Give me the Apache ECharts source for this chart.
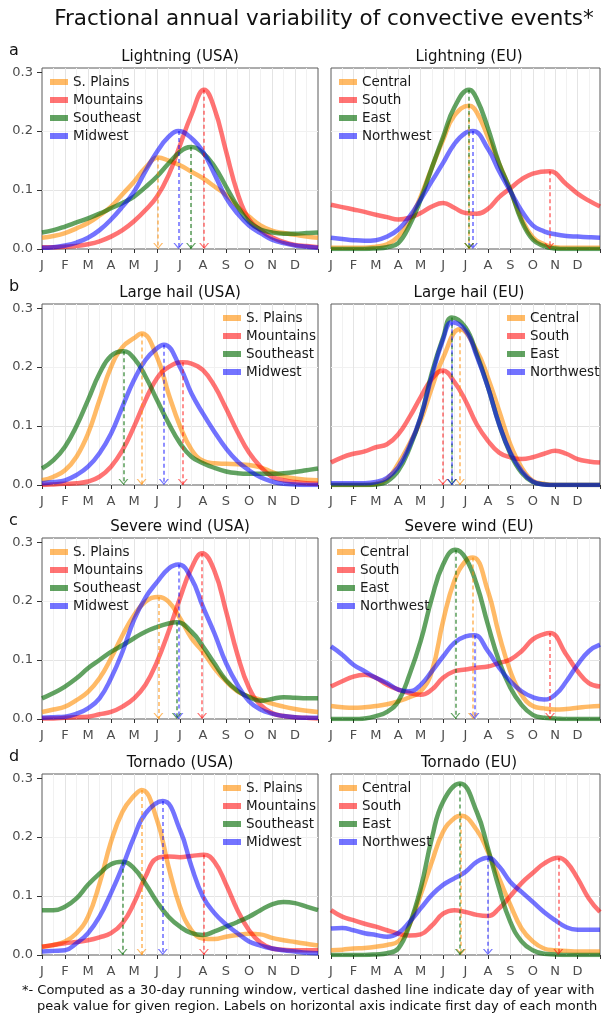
<!DOCTYPE html>
<html>
<head>
<meta charset="utf-8">
<script src="https://cdn.jsdelivr.net/npm/echarts@6/dist/echarts.min.js"></script>
<style>
  html, body { margin: 0; padding: 0; background: #fff; }
  #chart-container { width: 603px; height: 1018px; }
</style>
</head>
<body>
<div id="chart-container"></div>
<script>
// x positions in months (0 = 1 Jan, 12 = 31 Dec), half-month steps
var monthPos = [0, 0.5, 1, 1.5, 2, 2.5, 3, 3.5, 4, 4.5, 5, 5.5, 6, 6.5, 7, 7.5, 8, 8.5, 9, 9.5, 10, 10.5, 11, 11.5, 12];
var monthLabels = ['J', 'F', 'M', 'A', 'M', 'J', 'J', 'A', 'S', 'O', 'N', 'D'];
var yTicks = [0, 0.1, 0.2, 0.3];

var usaRegions = ['S. Plains', 'Mountains', 'Southeast', 'Midwest'];
var euRegions = ['Central', 'South', 'East', 'Northwest'];

// a - lightning
var lightningUsaPlains = [0.019,0.022,0.027,0.035,0.044,0.057,0.072,0.093,0.114,0.138,0.154,0.150,0.142,0.131,0.120,0.106,0.092,0.072,0.055,0.040,0.031,0.027,0.024,0.021,0.019];
var lightningUsaMountains = [0.003,0.003,0.004,0.005,0.008,0.013,0.021,0.032,0.047,0.066,0.089,0.125,0.176,0.228,0.268,0.238,0.166,0.095,0.050,0.032,0.020,0.012,0.007,0.005,0.003];
var lightningUsaSoutheast = [0.028,0.032,0.038,0.045,0.052,0.060,0.069,0.078,0.089,0.105,0.123,0.145,0.165,0.173,0.163,0.140,0.106,0.072,0.046,0.033,0.028,0.026,0.026,0.027,0.028];
var lightningUsaMidwest = [0.002,0.003,0.006,0.011,0.019,0.032,0.050,0.072,0.097,0.132,0.165,0.190,0.199,0.188,0.165,0.127,0.087,0.060,0.040,0.027,0.016,0.010,0.006,0.004,0.002];
var lightningUsaPeakMonth = [5.05, 7.05, 6.48, 5.93];
var lightningUsaPeakValue = [0.155, 0.270, 0.173, 0.200];

var lightningEuCentral = [0.002,0.002,0.002,0.002,0.004,0.008,0.021,0.048,0.089,0.138,0.185,0.226,0.242,0.232,0.190,0.145,0.100,0.052,0.020,0.008,0.003,0.002,0.002,0.002,0.002];
var lightningEuSouth = [0.075,0.071,0.067,0.063,0.058,0.054,0.050,0.053,0.061,0.072,0.078,0.070,0.061,0.060,0.068,0.088,0.103,0.118,0.128,0.130,0.126,0.110,0.094,0.082,0.072];
var lightningEuEast = [0,0,0,0,0.001,0.003,0.010,0.040,0.084,0.138,0.190,0.240,0.268,0.255,0.205,0.145,0.100,0.048,0.016,0.005,0.001,0,0,0,0];
var lightningEuNorthwest = [0.019,0.017,0.015,0.014,0.015,0.021,0.033,0.055,0.084,0.115,0.146,0.178,0.197,0.197,0.170,0.132,0.098,0.065,0.040,0.030,0.025,0.022,0.021,0.020,0.019];
var lightningEuPeakMonth = [6.16, 9.74, 6.16, 6.33];
var lightningEuPeakValue = [0.243, 0.132, 0.270, 0.200];

// b - large hail
var hailUsaPlains = [0.008,0.014,0.025,0.048,0.087,0.144,0.200,0.234,0.249,0.254,0.217,0.155,0.100,0.060,0.041,0.037,0.036,0.035,0.034,0.030,0.022,0.015,0.011,0.009,0.008];
var hailUsaMountains = [0,0.001,0.002,0.003,0.006,0.014,0.031,0.059,0.099,0.144,0.181,0.200,0.207,0.206,0.195,0.168,0.130,0.090,0.055,0.031,0.014,0.008,0.005,0.003,0.002];
var hailUsaSoutheast = [0.028,0.042,0.065,0.100,0.144,0.189,0.219,0.227,0.215,0.184,0.144,0.105,0.071,0.048,0.037,0.029,0.023,0.020,0.019,0.019,0.019,0.020,0.022,0.025,0.028];
var hailUsaMidwest = [0.003,0.005,0.008,0.017,0.031,0.054,0.087,0.133,0.178,0.212,0.232,0.234,0.200,0.155,0.121,0.090,0.062,0.040,0.025,0.013,0.006,0.002,0.001,0,0];
var hailUsaPeakMonth = [4.33, 6.12, 3.54, 5.3];
var hailUsaPeakValue = [0.257, 0.208, 0.227, 0.238];

var hailEuCentral = [0,0,0,0,0.002,0.010,0.036,0.070,0.109,0.165,0.216,0.255,0.259,0.228,0.182,0.126,0.069,0.030,0.007,0.002,0,0,0,0,0];
var hailEuSouth = [0.038,0.047,0.053,0.057,0.064,0.069,0.086,0.115,0.149,0.180,0.194,0.175,0.143,0.103,0.075,0.055,0.047,0.044,0.047,0.053,0.058,0.053,0.044,0.040,0.038];
var hailEuEast = [0,0,0,0,0.001,0.006,0.024,0.062,0.115,0.190,0.250,0.281,0.267,0.222,0.166,0.103,0.053,0.021,0.005,0.001,0,0,0,0,0];
var hailEuNorthwest = [0.003,0.003,0.003,0.003,0.005,0.012,0.030,0.066,0.115,0.185,0.247,0.273,0.262,0.219,0.166,0.103,0.055,0.024,0.006,0.001,0,0,0,0,0];
var hailEuPeakMonth = [5.75, 4.99, 5.39, 5.39];
var hailEuPeakValue = [0.264, 0.194, 0.284, 0.276];

// c - severe wind
var windUsaPlains = [0.012,0.016,0.021,0.032,0.046,0.069,0.103,0.142,0.176,0.199,0.207,0.199,0.171,0.137,0.114,0.086,0.064,0.047,0.038,0.033,0.026,0.021,0.017,0.014,0.012];
var windUsaMountains = [0.001,0.001,0.002,0.003,0.004,0.008,0.012,0.021,0.035,0.058,0.097,0.148,0.205,0.256,0.278,0.251,0.183,0.109,0.053,0.024,0.010,0.005,0.003,0.002,0.001];
var windUsaSoutheast = [0.035,0.044,0.055,0.069,0.086,0.100,0.114,0.125,0.137,0.148,0.156,0.162,0.163,0.148,0.123,0.094,0.066,0.048,0.037,0.031,0.034,0.037,0.036,0.035,0.035];
var windUsaMidwest = [0.002,0.003,0.004,0.009,0.018,0.035,0.069,0.114,0.168,0.206,0.232,0.255,0.262,0.238,0.190,0.145,0.095,0.058,0.030,0.016,0.009,0.005,0.003,0.002,0.002];
var windUsaPeakMonth = [5.06, 6.96, 5.86, 5.93];
var windUsaPeakValue = [0.207, 0.281, 0.164, 0.262];

var windEuCentral = [0.022,0.020,0.019,0.020,0.022,0.025,0.030,0.037,0.047,0.081,0.166,0.234,0.268,0.262,0.217,0.143,0.081,0.041,0.022,0.018,0.016,0.017,0.019,0.021,0.022];
var windEuSouth = [0.055,0.064,0.072,0.075,0.070,0.058,0.050,0.044,0.041,0.050,0.070,0.081,0.084,0.087,0.089,0.095,0.101,0.115,0.135,0.144,0.138,0.109,0.081,0.061,0.055];
var windEuEast = [0,0,0,0.001,0.005,0.012,0.030,0.075,0.132,0.205,0.262,0.286,0.273,0.228,0.160,0.098,0.053,0.024,0.007,0.002,0.001,0,0,0,0];
var windEuNorthwest = [0.123,0.109,0.092,0.081,0.070,0.061,0.050,0.047,0.058,0.081,0.106,0.129,0.140,0.140,0.115,0.087,0.064,0.047,0.037,0.033,0.041,0.064,0.092,0.115,0.126];
var windEuPeakMonth = [6.33, 9.77, 5.55, 6.4];
var windEuPeakValue = [0.274, 0.146, 0.287, 0.142];

// d - tornado
var tornadoUsaPlains = [0.014,0.017,0.023,0.037,0.065,0.121,0.192,0.243,0.270,0.277,0.229,0.150,0.082,0.042,0.028,0.027,0.031,0.034,0.036,0.035,0.029,0.025,0.022,0.019,0.016];
var tornadoUsaMountains = [0.014,0.017,0.020,0.022,0.025,0.030,0.037,0.054,0.088,0.133,0.164,0.167,0.166,0.168,0.169,0.158,0.120,0.076,0.042,0.021,0.011,0.009,0.008,0.008,0.008];
var tornadoUsaSoutheast = [0.076,0.076,0.082,0.096,0.119,0.138,0.154,0.158,0.147,0.121,0.090,0.065,0.048,0.037,0.034,0.040,0.048,0.056,0.065,0.076,0.086,0.090,0.088,0.082,0.076];
var tornadoUsaMidwest = [0.006,0.007,0.008,0.020,0.037,0.065,0.105,0.150,0.200,0.240,0.255,0.254,0.212,0.150,0.099,0.071,0.052,0.037,0.023,0.016,0.011,0.008,0.006,0.004,0.003];
var tornadoUsaPeakMonth = [4.33, 7.04, 3.5, 5.25];
var tornadoUsaPeakValue = [0.280, 0.170, 0.158, 0.261];

var tornadoEuCentral = [0.008,0.009,0.011,0.012,0.014,0.017,0.023,0.051,0.102,0.158,0.209,0.232,0.232,0.212,0.175,0.130,0.085,0.045,0.023,0.011,0.008,0.007,0.006,0.006,0.006];
var tornadoEuSouth = [0.076,0.065,0.059,0.053,0.048,0.042,0.036,0.033,0.035,0.050,0.070,0.076,0.073,0.068,0.066,0.079,0.100,0.122,0.139,0.155,0.164,0.158,0.130,0.096,0.073];
var tornadoEuEast = [0,0,0,0,0.001,0.003,0.011,0.051,0.113,0.198,0.260,0.288,0.282,0.243,0.181,0.113,0.056,0.023,0.008,0.002,0.001,0,0,0,0];
var tornadoEuNorthwest = [0.045,0.046,0.042,0.037,0.034,0.031,0.037,0.056,0.079,0.102,0.119,0.130,0.141,0.158,0.165,0.150,0.124,0.107,0.090,0.073,0.059,0.047,0.043,0.043,0.043];
var tornadoEuPeakMonth = [5.8, 10.14, 5.75, 7.0];
var tornadoEuPeakValue = [0.236, 0.165, 0.291, 0.165];

var lineColors = ['rgba(255,140,0,0.6)', 'rgba(255,0,0,0.55)', 'rgba(0,105,0,0.62)', 'rgba(0,0,255,0.55)'];
var font = 'DejaVu Sans';

var rowTop = [68, 304, 538, 774];
var colLeft = [42, 331];
var plotW = 276, plotH = 181;
var yMax = 0.307;

var panels = [
  { title: 'Lightning (USA)', letter: 'a', row: 0, col: 0, regions: usaRegions, legendLeft: 50,
    values: [lightningUsaPlains, lightningUsaMountains, lightningUsaSoutheast, lightningUsaMidwest],
    peakMonth: lightningUsaPeakMonth, peakValue: lightningUsaPeakValue },
  { title: 'Lightning (EU)', row: 0, col: 1, regions: euRegions, legendLeft: 339,
    values: [lightningEuCentral, lightningEuSouth, lightningEuEast, lightningEuNorthwest],
    peakMonth: lightningEuPeakMonth, peakValue: lightningEuPeakValue },
  { title: 'Large hail (USA)', letter: 'b', row: 1, col: 0, regions: usaRegions, legendLeft: 223,
    values: [hailUsaPlains, hailUsaMountains, hailUsaSoutheast, hailUsaMidwest],
    peakMonth: hailUsaPeakMonth, peakValue: hailUsaPeakValue },
  { title: 'Large hail (EU)', row: 1, col: 1, regions: euRegions, legendLeft: 507,
    values: [hailEuCentral, hailEuSouth, hailEuEast, hailEuNorthwest],
    peakMonth: hailEuPeakMonth, peakValue: hailEuPeakValue },
  { title: 'Severe wind (USA)', letter: 'c', row: 2, col: 0, regions: usaRegions, legendLeft: 50,
    values: [windUsaPlains, windUsaMountains, windUsaSoutheast, windUsaMidwest],
    peakMonth: windUsaPeakMonth, peakValue: windUsaPeakValue },
  { title: 'Severe wind (EU)', row: 2, col: 1, regions: euRegions, legendLeft: 337,
    values: [windEuCentral, windEuSouth, windEuEast, windEuNorthwest],
    peakMonth: windEuPeakMonth, peakValue: windEuPeakValue },
  { title: 'Tornado (USA)', letter: 'd', row: 3, col: 0, regions: usaRegions, legendLeft: 223,
    values: [tornadoUsaPlains, tornadoUsaMountains, tornadoUsaSoutheast, tornadoUsaMidwest],
    peakMonth: tornadoUsaPeakMonth, peakValue: tornadoUsaPeakValue },
  { title: 'Tornado (EU)', row: 3, col: 1, regions: euRegions, legendLeft: 339,
    values: [tornadoEuCentral, tornadoEuSouth, tornadoEuEast, tornadoEuNorthwest],
    peakMonth: tornadoEuPeakMonth, peakValue: tornadoEuPeakValue }
];

// open "V" arrow head, tip at the bottom
var chevron = 'path://M0,0 L5,6 L10,0 L8.5,0 L5,4.2 L1.5,0 Z';

var dom = document.getElementById('chart-container');
var myChart = echarts.init(dom, null, { renderer: 'canvas' });

// grid points too close to the peak are dropped so the curve stays round there
function lineData(values, pkMonth, pkValue) {
  var pts = [];
  for (var i = 0; i < monthPos.length; i++) {
    if (Math.abs(monthPos[i] - pkMonth) < 0.26) continue;
    pts.push([monthPos[i], values[i]]);
  }
  pts.push([pkMonth, pkValue]);
  pts.sort(function(a, b) { return a[0] - b[0]; });
  return pts;
}

function getOption() {
  var grids = [], xAxes = [], yAxes = [], series = [], legends = [];
  var titles = [{
    text: 'Fractional annual variability of convective events*',
    left: 324, top: 19, textAlign: 'center', textVerticalAlign: 'middle', padding: 0,
    textStyle: { fontFamily: font, fontSize: 21.5, fontWeight: 'normal', color: '#111' }
  }];

  panels.forEach(function(p, pi) {
    var left = colLeft[p.col], top = rowTop[p.row];

    grids.push({
      left: left, top: top, width: plotW, height: plotH,
      show: true, backgroundColor: '#fff', borderColor: '#5a5a5a', borderWidth: 1
    });

    xAxes.push({
      type: 'value', gridIndex: pi, min: 0, max: 12, interval: 1,
      axisLine: { show: false },
      axisTick: { show: true, length: 4, lineStyle: { color: '#333' } },
      axisLabel: {
        margin: 10, fontFamily: font, fontSize: 13, color: '#4d4d4d',
        formatter: function(v) { return monthLabels[v] || ''; }
      },
      splitLine: { show: true, showMinLine: false, showMaxLine: false, lineStyle: { color: '#e4e4e4', width: 1 } },
      minorTick: { show: false, splitNumber: 2 },
      minorSplitLine: { show: true, lineStyle: { color: '#f1f1f1', width: 1 } }
    });

    yAxes.push({
      type: 'value', gridIndex: pi, min: 0, max: yMax, interval: 0.05,
      axisLine: { show: false },
      axisTick: { show: p.col === 0, length: 5, customValues: yTicks, lineStyle: { color: '#333' } },
      axisLabel: {
        show: p.col === 0, margin: 9, fontFamily: font, fontSize: 13, color: '#4d4d4d',
        customValues: yTicks,
        formatter: function(v) { return v.toFixed(1); }
      },
      splitLine: { show: true, showMinLine: false, showMaxLine: false, lineStyle: { color: ['#e4e4e4', '#f1f1f1'], width: 1 } }
    });

    titles.push({
      text: p.title, left: left + plotW / 2, top: top - 11, textAlign: 'center', textVerticalAlign: 'middle', padding: 0,
      textStyle: { fontFamily: font, fontSize: 15, fontWeight: 'normal', color: '#111' }
    });
    if (p.letter) {
      titles.push({
        text: p.letter, left: 9, top: top - 17, textAlign: 'left', textVerticalAlign: 'middle', padding: 0,
        textStyle: { fontFamily: font, fontSize: 16, fontWeight: 'normal', color: '#111' }
      });
    }

    legends.push({
      data: p.regions, orient: 'vertical', left: p.legendLeft, top: top + 7,
      icon: 'rect', itemWidth: 18, itemHeight: 6, itemGap: 4, padding: 0,
      selectedMode: false,
      textStyle: { fontFamily: font, fontSize: 13.5, color: '#1a1a1a' }
    });

    p.values.forEach(function(vals, si) {
      var c = lineColors[si];
      var pkM = p.peakMonth[si], pkV = p.peakValue[si];
      series.push({
        type: 'line', name: p.regions[si], xAxisIndex: pi, yAxisIndex: pi,
        data: lineData(vals, pkM, pkV),
        smooth: 0.45, showSymbol: false, silent: true, color: c,
        lineStyle: { width: 4.5, color: c },
        markLine: {
          silent: true, symbol: 'none', animation: false,
          label: { show: false },
          lineStyle: { type: [4, 3], width: 1.6, color: c },
          data: [[{ coord: [pkM, pkV] }, { coord: [pkM, 0] }]]
        },
        markPoint: {
          silent: true, symbol: chevron, symbolSize: [10, 6], symbolOffset: [0, -3],
          label: { show: false },
          itemStyle: { color: c },
          data: [{ coord: [pkM, 0] }]
        }
      });
    });
  });

  titles.push({
    text: '*- Computed as a 30-day running window, vertical dashed line indicate day of year with',
    left: 22, top: 991, textVerticalAlign: 'middle', textAlign: 'left', padding: 0,
    textStyle: { fontFamily: font, fontSize: 13, fontWeight: 'normal', color: '#111' }
  });
  titles.push({
    text: 'peak value for given region. Labels on horizontal axis indicate first day of each month',
    left: 37, top: 1007, textVerticalAlign: 'middle', textAlign: 'left', padding: 0,
    textStyle: { fontFamily: font, fontSize: 13, fontWeight: 'normal', color: '#111' }
  });

  return {
    animation: false,
    backgroundColor: '#fff',
    title: titles,
    legend: legends,
    grid: grids,
    xAxis: xAxes,
    yAxis: yAxes,
    series: series
  };
}

myChart.setOption(getOption());
</script>
</body>
</html>
